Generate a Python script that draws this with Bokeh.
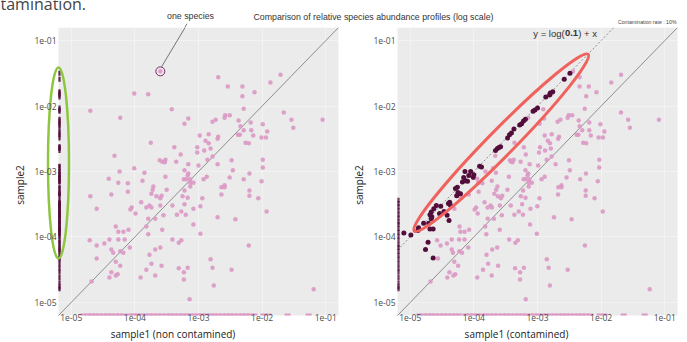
import math
import numpy as np
from bokeh.plotting import figure
from bokeh.layouts import column, row
from bokeh.models import (Range1d, FixedTicker, CustomJSTickFormatter, Label, BoxAnnotation)
from bokeh.core.properties import value
from bokeh.embed import file_html
from bokeh.resources import INLINE

# ---------------- data (log10 relative abundance) ----------------
# species present in both samples (sample1, sample2); first one = "one species"
s1 = [-3.60, -2.69, -1.71, -2.54, -2.31, -1.87, -2.12, -2.31, -4.01, -3.79,
      -4.70, -2.29, -3.42, -4.23, -3.16, -3.22, -2.73, -2.78, -2.58, -2.59,
      -2.51, -2.37, -2.18, -1.99, -1.66, -1.54, -1.51, -1.05, -2.29, -2.17,
      -2.34, -2.38, -2.35, -2.14, -1.92, -2.01, -1.94, -2.98, -2.84, -2.69,
      -2.70, -2.89, -2.84, -3.75, -2.26, -2.21, -3.38, -3.02, -3.02, -2.91,
      -2.81, -3.28, -4.32, -3.61, -3.57, -3.52, -3.53, -3.35, -2.86, -2.78,
      -2.48, -1.99, -2.70, -3.16, -4.01, -3.85, -4.24, -3.52, -3.22, -3.16,
      -3.17, -3.00, -2.46, -1.99, -4.41, -3.88, -4.26, -4.11, -3.23, -3.19,
      -3.13, -3.13, -3.08, -2.92, -2.87, -2.51, -2.29, -2.20, -2.01, -3.71,
      -3.72, -3.50, -3.13, -3.22, -2.59, -2.59, -2.64, -4.11, -4.37, -4.70,
      -3.74, -3.66, -3.58, -3.60, -3.25, -3.17, -2.94, -2.64, -2.20, -2.20,
      -2.06, -4.60, -3.90, -4.05, -4.07, -3.77, -3.82, -3.74, -3.60, -3.41,
      -3.22, -3.08, -2.97, -3.99, -3.79, -3.68, -3.55, -3.34, -3.27, -3.20,
      -2.70, -2.42, -1.93, -4.30, -3.82, -3.08, -4.26, -4.18, -4.10, -3.79,
      -3.57, -2.97, -4.71, -4.48, -4.40, -4.60, -4.26, -4.16, -4.08, -3.41,
      -3.31, -3.27, -3.60, -3.68, -2.21, -4.37, -4.34, -4.23, -4.18, -3.77,
      -4.60, -4.30, -4.23, -3.74, -3.58, -2.81, -2.78, -3.31, -3.17, -3.82,
      -4.37, -4.30, -4.27, -3.91, -3.68, -3.23, -3.23, -2.48, -4.40, -2.76,
      -3.14, -1.19, -4.68]
s2 = [-1.47, -1.56, -1.52, -1.70, -1.70, -1.64, -1.79, -1.85, -1.81, -1.82,
      -2.07, -2.04, -2.05, -2.18, -2.19, -2.27, -2.21, -2.24, -2.14, -2.18,
      -2.14, -2.22, -2.25, -2.28, -2.10, -2.21, -2.33, -2.21, -2.37, -2.37,
      -2.31, -2.44, -2.44, -2.45, -2.39, -2.48, -2.48, -2.45, -2.43, -2.47,
      -2.50, -2.53, -2.57, -2.56, -2.56, -2.57, -2.63, -2.63, -2.71, -2.68,
      -2.65, -2.74, -2.76, -2.83, -2.85, -2.82, -2.86, -2.85, -2.82, -2.77,
      -2.83, -2.82, -2.89, -2.89, -2.95, -3.02, -3.00, -3.08, -2.98, -3.03,
      -3.06, -2.91, -2.98, -2.94, -3.11, -3.14, -3.17, -3.18, -3.12, -3.12,
      -3.12, -3.17, -3.17, -3.12, -3.08, -3.09, -3.12, -3.03, -3.15, -3.23,
      -3.28, -3.28, -3.23, -3.29, -3.21, -3.24, -3.24, -3.31, -3.35, -3.38,
      -3.34, -3.38, -3.37, -3.41, -3.38, -3.40, -3.41, -3.35, -3.29, -3.37,
      -3.41, -3.57, -3.47, -3.55, -3.58, -3.52, -3.55, -3.55, -3.52, -3.52,
      -3.50, -3.57, -3.53, -3.64, -3.72, -3.72, -3.67, -3.66, -3.61, -3.66,
      -3.70, -3.73, -3.61, -3.84, -3.84, -3.81, -3.92, -3.92, -3.89, -3.96,
      -3.89, -3.95, -4.05, -4.10, -4.04, -4.13, -4.04, -4.04, -4.16, -4.04,
      -4.09, -4.05, -4.16, -4.19, -4.13, -4.19, -4.24, -4.22, -4.24, -4.27,
      -4.33, -4.38, -4.44, -4.41, -4.44, -4.34, -4.47, -4.48, -4.47, -4.50,
      -4.54, -4.59, -4.57, -4.62, -4.59, -4.54, -4.65, -4.50, -4.62, -4.74,
      -4.95, -4.80, -4.68]

# species absent from sample1 (only in sample2): sample2 abundance
only_s2 = [-1.50, -1.59, -1.80, -1.83, -1.78, -1.86, -2.03, -2.06, -2.08, -2.20,
           -2.23, -2.27, -2.29, -2.35, -2.41, -2.44, -2.49, -2.62, -2.65, -2.68,
           -2.63, -2.92, -2.93, -3.00, -3.00, -3.06, -3.09, -3.09, -3.05, -3.16,
           -3.24, -3.26, -3.32, -3.34, -3.37, -3.47, -3.49, -3.51, -3.52, -3.53,
           -3.57, -3.61, -3.64, -3.62, -3.66, -3.67, -3.75, -3.69, -3.72, -3.79,
           -3.86, -3.88, -3.88, -3.94, -3.97, -4.08, -4.19, -4.32, -3.90, -3.79,
           -3.14, -3.15, -3.34,
           -3.44, -3.49, -3.54, -3.60, -3.66, -3.71, -3.77, -3.81, -3.87, -3.93,
           -3.99, -4.05, -4.12, -4.16, -4.22, -4.28, -4.34, -4.41, -4.48, -4.54,
           -4.62, -4.70, -4.76, -4.79]
# their abundance in the contaminated sample1 (nan = still not detected)
nan = float("nan")
only_s2_contam = [-2.49, -2.58, -2.80, -2.81, -2.76, -2.87, -3.00, -3.04, -3.07, -3.19,
                  -3.22, -3.25, -3.28, -3.37, -3.41, -3.44, -3.47, -3.58, -3.63, -3.66,
                  -3.60, -3.91, -3.88, -4.05, -4.14, -4.08, -4.16, -4.01, -4.00, -4.18,
                  -4.26, -4.29, -4.25, -4.21, -4.27, -4.38, -4.40, -4.37, -4.59, -4.52,
                  -4.63, -4.47, -4.54, -4.67, -4.69, -4.42, -4.39, -4.66, -4.67, -4.71,
                  -4.87, -4.69, -4.64, -5.10, -4.99, -4.72, -4.76, -4.64, -4.88, -4.79,
                  -4.13, -4.10, -4.24] + [nan] * 24

# species absent from sample2 (only in sample1): sample1 abundance
only_s1 = [-4.81, -4.74, -4.68, -4.62, -4.56, -4.49, -4.43, -4.37, -4.30, -4.24,
           -4.18, -4.08, -4.02, -3.96, -3.90, -3.83, -3.77, -3.71, -3.64, -3.58,
           -3.50, -3.44, -3.38, -3.31, -3.25, -3.19, -3.13, -3.06, -3.00, -2.94,
           -2.87, -2.81, -2.75, -2.69, -2.62, -2.56, -2.50, -2.44, -2.37, -2.31,
           -2.25, -2.19, -2.12, -1.98, -1.90, -1.60, -1.27]

contamination_rate = 0.1
tick_values = [-5, -4, -3, -2, -1]

# ---------------- derived ----------------
r = contamination_rate
s1_contam = np.log10((1 - r) * 10 ** np.array(s1) + r * 10 ** np.array(s2))
only_s1_contam = np.log10((1 - r) * 10 ** np.array(only_s1))

# ---------------- geometry / style ----------------
LO, HI = -5.2, -0.8                 # panel data limits (log10)
PANEL_W, PANEL_H = 280, 288         # panel size in px
PX_X = PANEL_W / (HI - LO)
PX_Y = PANEL_H / (HI - LO)
TOP_H = 27                          # strip above the panels
CANVAS_H = 315                      # panel figures height
BELOW = CANVAS_H - PANEL_H          # room below each panel for the x axis
BG = "#ebebeb"
PINK = "#dc98c4"
DARK = "#530d3b"
SANS = "Liberation Sans"
BASE = "Open Sans"


def make_panel(width, pad_left, xlabel):
    pad_right = width - pad_left - PANEL_W
    p = figure(width=width, height=CANVAS_H,
               x_range=Range1d(LO - pad_left / PX_X, HI + pad_right / PX_X),
               y_range=Range1d(LO - BELOW / PX_Y, HI),
               output_backend="svg", toolbar_location=None, title=None, min_border=0)
    p.background_fill_color = "white"
    p.border_fill_color = "white"
    p.outline_line_color = None
    p.add_layout(BoxAnnotation(left=LO, right=HI, bottom=LO, top=HI, fill_color=BG,
                               fill_alpha=1, line_alpha=0, level="image"))
    ticker = FixedTicker(ticks=tick_values)
    fmt = CustomJSTickFormatter(code="return '1e-0' + Math.round(-tick);")
    for ax in (p.xaxis[0], p.yaxis[0]):
        ax.fixed_location = LO
        ax.ticker = ticker
        ax.formatter = fmt
        ax.axis_line_color = None
        ax.major_tick_line_color = None
        ax.minor_tick_line_color = None
        ax.major_tick_out = 0
        ax.major_tick_in = 0
        ax.minor_tick_out = 0
        ax.major_label_text_font = BASE
        ax.major_label_text_font_size = "8.5px"
        ax.major_label_text_color = "#4d4d4d"
        ax.axis_label_text_font = BASE
        ax.axis_label_text_font_size = "10px"
        ax.axis_label_text_font_style = "normal"
        ax.axis_label_text_color = "#222222"
    p.yaxis.major_label_standoff = 2
    p.yaxis.axis_label = "sample2"
    p.yaxis.axis_label_standoff = 4
    p.xaxis.major_label_standoff = -2
    p.xaxis.axis_label = xlabel
    p.xaxis.axis_label_standoff = 3
    p.xgrid.ticker = ticker
    p.ygrid.ticker = ticker
    p.grid.grid_line_color = "white"
    p.grid.grid_line_alpha = 0.6
    p.grid.grid_line_width = 0.6
    # y = x reference line
    p.line([LO, HI], [LO, HI], line_color="#666666", line_width=0.7)
    return p


edge_x = LO + 1 / PX_X   # where absent species are drawn (axis edge)
edge_y = LO + 1 / PX_Y

# ---------------- left panel: non contaminated ----------------
pl = make_panel(345, 58, "sample1 (non contamined)")
pl.scatter(s1, s2, size=4.5, fill_color=PINK, line_color=None, fill_alpha=0.9)
pl.scatter([edge_x] * len(only_s2), only_s2, marker="dash", angle=math.pi / 2, size=5,
           line_color=DARK, line_width=2.2, line_alpha=0.9)
pl.scatter(only_s1, [edge_y] * len(only_s1), marker="dash", size=6,
           line_color=PINK, line_width=2)
# highlighted single species
pl.scatter([s1[0]], [s2[0]], size=9, fill_color=None, line_color="#7b2660", line_width=1)
pl.segment(x0=[s1[0] + 0.02], y0=[s2[0] + 0.07], x1=[s1[0] + 0.42], y1=[s2[0] + 0.72],
           line_color="#555555", line_width=0.8)
# green ellipse around the species absent from sample1
pl.ellipse(x=[LO], y=[-2.87], width=[21], height=[191], width_units="screen",
           height_units="screen", fill_color=None, line_color="#8dc63f", line_width=2.5)

# ---------------- right panel: contaminated ----------------
pr = make_panel(342, 52, "sample1 (contamined)")
shift = -math.log10(r)
pr.line([LO, HI], [LO + shift, HI + shift], line_color="#777777", line_width=0.8,
        line_dash="2 2")
pr.scatter(s1_contam, s2, size=4.5, fill_color=PINK, line_color=None, fill_alpha=0.9)
pr.scatter(only_s1_contam, [edge_y] * len(only_s1), marker="dash", size=6,
           line_color=PINK, line_width=2)
zero_idx = [i for i, v in enumerate(only_s2_contam) if math.isnan(v)]
det_idx = [i for i, v in enumerate(only_s2_contam) if not math.isnan(v)]
pr.scatter([edge_x] * len(zero_idx), [only_s2[i] for i in zero_idx], marker="dash",
           angle=math.pi / 2, size=5, line_color=DARK, line_width=2.2, line_alpha=0.8)
pr.scatter([only_s2_contam[i] for i in det_idx], [only_s2[i] for i in det_idx],
           size=5, fill_color=DARK, line_color=None)
pr.ellipse(x=[-3.57], y=[-2.56], width=[248], height=[26], angle=[45.5],
           angle_units="deg", width_units="screen", height_units="screen",
           fill_color=None, line_color="#f0625e", line_width=3)
eq_x, eq_y = -2.466, -0.89
for txt, off, align, style in [("y = log(", -6.8, "right", "normal"),
                               (str(r), 0, "center", "bold"),
                               (") + x", 6.8, "left", "normal")]:
    pr.add_layout(Label(x=eq_x, y=eq_y, x_offset=off, text=txt, text_align=align,
                        text_baseline="middle", text_font=SANS, text_font_size="9.5px",
                        text_font_style=style, text_color="#333333"))

# ---------------- top strip with titles ----------------
top = figure(width=687, height=TOP_H, x_range=Range1d(0, 687), y_range=Range1d(TOP_H, 0),
             output_backend="svg", toolbar_location=None, title=None, min_border=0,
             x_axis_location=None, y_axis_location=None)
top.grid.visible = False
top.outline_line_color = None
top.background_fill_color = "white"
top.border_fill_color = "white"
top.text(x=[0], y=[3.5], text=["tamination."], text_font=value(BASE), text_font_size="16px",
         text_color="#444444", text_baseline="alphabetic")
top.text(x=[190], y=[15.5], text=["one species"], text_font=value(SANS),
         text_font_size="8.8px", text_color="#333333", text_align="center",
         text_baseline="middle")
top.text(x=[373], y=[16.5],
         text=["Comparison of relative species abundance profiles (log scale)"],
         text_font=value(SANS), text_font_size="8.8px", text_color="#333333",
         text_align="center", text_baseline="middle")
top.text(x=[676], y=[21.5], text=[f"Contamination rate : {int(round(r * 100))}%"],
         text_font=value(SANS), text_font_size="5.2px", text_color="#444444",
         text_align="right", text_baseline="middle")
top.segment(x0=[184.2], y0=[TOP_H], x1=[186.4], y1=[23.3], line_color="#555555",
            line_width=0.8)

layout = column(top, row(pl, pr, spacing=0), spacing=0)
open("out.html", "w").write(file_html(layout, INLINE))
